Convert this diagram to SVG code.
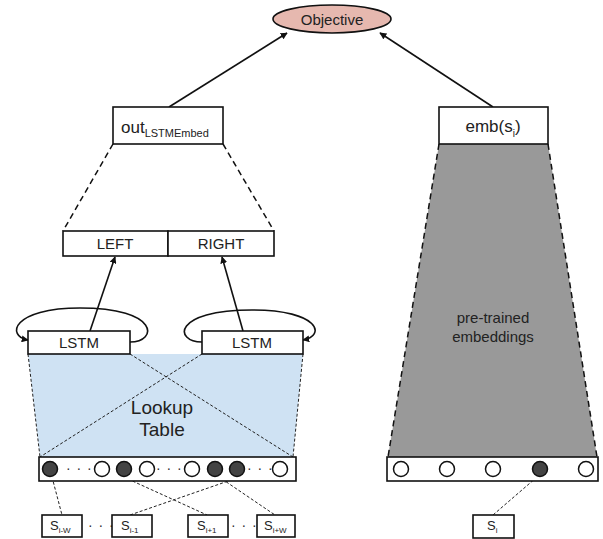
<svg xmlns="http://www.w3.org/2000/svg" width="603" height="539" viewBox="0 0 603 539">
<style>
text{font-family:"Liberation Sans",Arial,sans-serif;fill:#222;}
.box{fill:#fff;stroke:#111;stroke-width:1.6;}
.arr{fill:none;stroke:#111;stroke-width:1.6;marker-end:url(#ah);}
.dash{fill:none;stroke:#111;stroke-width:1.5;stroke-dasharray:6,4;}
.fdash{fill:none;stroke:#222;stroke-width:1;stroke-dasharray:3,2;}
.c{fill:#fff;stroke:#111;stroke-width:1.5;}
.cf{fill:#434343;stroke:#111;stroke-width:1.5;}
.lbl{font-size:15px;text-anchor:middle;}
.dots{font-size:14px;fill:#333;letter-spacing:1px;}
</style>
<defs>
<marker id="ah" viewBox="0 0 10 10" refX="9" refY="5" markerWidth="7" markerHeight="7" markerUnits="userSpaceOnUse" orient="auto">
<path d="M0,0 L10,5 L0,10 z" fill="#111"/>
</marker>
</defs>

<g id="lookup-area">
<polygon points="28,354 303,354 293,457 40,457" fill="#cfe2f3"/>
</g>
<g id="pretrained-area">
<polygon points="439,144 548,144 597,457 388,457" fill="#999999"/>
</g>

<g id="connectors">
<line class="arr" x1="169" y1="107" x2="287" y2="33"/>
<line class="arr" x1="493" y1="107" x2="380" y2="33"/>
<line class="dash" x1="113" y1="144" x2="63" y2="231"/>
<line class="dash" x1="223" y1="144" x2="274" y2="231"/>
<line class="arr" x1="90" y1="331" x2="115" y2="257"/>
<line class="arr" x1="243" y1="331" x2="222" y2="257"/>
<path class="arr" d="M130,342 C158,342 160,308 80,308 C12,308 6,336 28,340"/>
<path class="arr" d="M202,342 C174,342 172,310 252,310 C320,310 326,336 303,340"/>
<line class="fdash" x1="28" y1="354" x2="40" y2="457"/>
<line class="fdash" x1="303" y1="354" x2="293" y2="457"/>
<line class="fdash" x1="130" y1="354" x2="293" y2="457"/>
<line class="fdash" x1="202" y1="354" x2="40" y2="457"/>
<line class="dash" x1="439" y1="144" x2="388" y2="457"/>
<line class="dash" x1="548" y1="144" x2="597" y2="457"/>
<line class="fdash" x1="52" y1="477" x2="62" y2="515"/>
<line class="fdash" x1="128" y1="479" x2="207" y2="515"/>
<line class="fdash" x1="237" y1="478" x2="130" y2="515"/>
<line class="fdash" x1="222" y1="479" x2="275" y2="515"/>
<line class="fdash" x1="537" y1="477" x2="493" y2="515"/>
</g>

<g id="objective">
<ellipse cx="332" cy="19" rx="59" ry="14" fill="#e6b8af" stroke="#111" stroke-width="1.6"/>
<text x="332" y="24.5" font-size="15" text-anchor="middle">Objective</text>
</g>

<g id="out-lstmembed">
<rect class="box" x="113" y="107" width="110" height="37"/>
<text x="121" y="133" font-size="17">out<tspan dy="4" font-size="11">LSTMEmbed</tspan></text>
</g>

<g id="emb-si">
<rect class="box" x="439" y="107" width="109" height="37"/>
<text x="493" y="132" font-size="17" text-anchor="middle">emb(s<tspan dy="5" font-size="10">i</tspan><tspan dy="-5">)</tspan></text>
</g>

<g id="left-right">
<rect class="box" x="63" y="231" width="105" height="25"/>
<rect class="box" x="168" y="231" width="106" height="25"/>
<text class="lbl" x="115" y="249">LEFT</text>
<text class="lbl" x="221" y="249">RIGHT</text>
</g>

<g id="lstm-left">
<rect class="box" x="28" y="331" width="102" height="23"/>
<text class="lbl" x="79" y="348">LSTM</text>
</g>
<g id="lstm-right">
<rect class="box" x="202" y="331" width="101" height="23"/>
<text class="lbl" x="252" y="348">LSTM</text>
</g>

<g id="lookup-label">
<text x="162" y="414" font-size="19" text-anchor="middle">Lookup</text>
<text x="162" y="436" font-size="19" text-anchor="middle">Table</text>
</g>

<g id="pretrained-label">
<text x="493" y="323" font-size="15" text-anchor="middle">pre-trained</text>
<text x="493" y="342" font-size="15" text-anchor="middle">embeddings</text>
</g>

<g id="context-embeddings">
<rect class="box" x="39" y="457" width="257" height="24"/>
<circle class="cf" cx="50" cy="469" r="7.5"/>
<text class="dots" x="66" y="473">· · ·</text>
<circle class="c" cx="102" cy="469" r="7.5"/>
<circle class="cf" cx="124" cy="469" r="7.5"/>
<circle class="c" cx="147" cy="469" r="7.5"/>
<text class="dots" x="156" y="473">· · ·</text>
<circle class="c" cx="192" cy="469" r="7.5"/>
<circle class="cf" cx="215" cy="469" r="7.5"/>
<circle class="cf" cx="237" cy="469" r="7.5"/>
<text class="dots" x="247" y="473">· · ·</text>
<circle class="c" cx="280" cy="469" r="7.5"/>
</g>

<g id="target-embeddings">
<rect class="box" x="387" y="457" width="211" height="24"/>
<circle class="c" cx="401" cy="469" r="7.5"/>
<circle class="c" cx="447" cy="469" r="7.5"/>
<circle class="c" cx="493" cy="469" r="7.5"/>
<circle class="cf" cx="540" cy="469" r="7.5"/>
<circle class="c" cx="586" cy="469" r="7.5"/>
</g>

<g id="s-i-w">
<rect class="box" x="42" y="515" width="40" height="22"/>
<text x="50" y="530" font-size="13">S<tspan dy="3" font-size="8">i-W</tspan></text>
</g>
<g id="dots-left"><text class="dots" x="88" y="530">· · ·</text></g>
<g id="s-i-1">
<rect class="box" x="112" y="515" width="40" height="22"/>
<text x="121" y="530" font-size="13">S<tspan dy="3" font-size="8">i-1</tspan></text>
</g>
<g id="s-i+1">
<rect class="box" x="188" y="515" width="40" height="22"/>
<text x="197" y="530" font-size="13">S<tspan dy="3" font-size="8">i+1</tspan></text>
</g>
<g id="dots-right"><text class="dots" x="231" y="530">· · ·</text></g>
<g id="s-i+w">
<rect class="box" x="257" y="515" width="38" height="22"/>
<text x="264" y="530" font-size="13">S<tspan dy="3" font-size="8">i+W</tspan></text>
</g>
<g id="s-i">
<rect class="box" x="473" y="515" width="41" height="23"/>
<text x="487" y="530" font-size="13">S<tspan dy="3" font-size="8">i</tspan></text>
</g>
</svg>
